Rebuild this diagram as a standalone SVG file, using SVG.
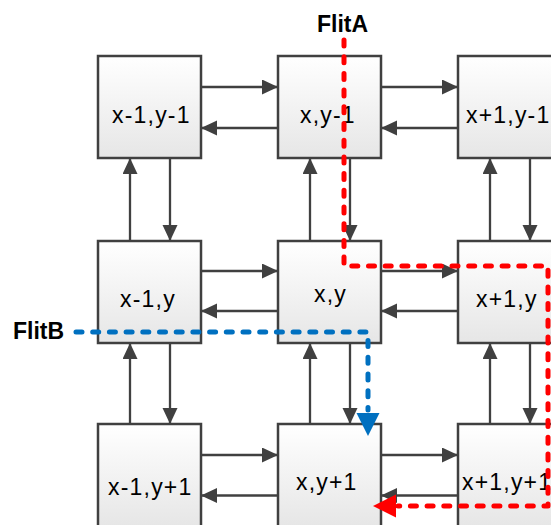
<svg xmlns="http://www.w3.org/2000/svg" width="551" height="525" viewBox="0 0 551 525">
  <style>
    .box { stroke: #404040; stroke-width: 2.5; fill: url(#g); }
    .lbl { font-family: "Liberation Sans", Arial, sans-serif; font-size: 23px; fill: #000; letter-spacing: 1.2px; }
    .flit { font-family: "Liberation Sans", Arial, sans-serif; font-size: 23px; font-weight: bold; fill: #000; }
    .ln { stroke: #404040; stroke-width: 2.3; fill: none; marker-end: url(#ah); }
    .red { stroke: #ff0000; stroke-width: 5; fill: none; stroke-dasharray: 6 10.7; stroke-linecap: round; stroke-linejoin: round; }
    .blue { stroke: #0070c0; stroke-width: 5; fill: none; stroke-dasharray: 6 10.7; stroke-linecap: round; stroke-linejoin: round; }
  </style>
  <defs>
    <linearGradient id="g" x1="0" y1="0" x2="0" y2="1">
      <stop offset="0" stop-color="#ffffff"/>
      <stop offset="1" stop-color="#e6e6e6"/>
    </linearGradient>
    <marker id="ah" markerUnits="userSpaceOnUse" markerWidth="18" markerHeight="16" refX="16" refY="7.5" orient="auto">
      <path d="M0,0 L16,7.5 L0,15 z" fill="#404040"/>
    </marker>
  </defs>

  <g id="n-xm1-ym1"><rect class="box" x="98" y="56" width="103" height="102"/><text class="lbl" x="112" y="123">x-1,y-1</text></g>
  <g id="n-x-ym1"><rect class="box" x="278" y="56" width="103" height="102"/><text class="lbl" x="300" y="123">x,y-1</text></g>
  <g id="n-xp1-ym1"><rect class="box" x="458" y="56" width="103" height="102"/><text class="lbl" x="466" y="123">x+1,y-1</text></g>

  <g id="n-xm1-y"><rect class="box" x="98" y="241" width="103" height="102"/><text class="lbl" x="120" y="307">x-1,y</text></g>
  <g id="n-x-y"><rect class="box" x="278" y="241" width="103" height="102"/><text class="lbl" x="314" y="302">x,y</text></g>
  <g id="n-xp1-y"><rect class="box" x="458" y="241" width="103" height="102"/><text class="lbl" x="476" y="307">x+1,y</text></g>

  <g id="n-xm1-yp1"><rect class="box" x="98" y="424" width="103" height="103"/><text class="lbl" x="108" y="495">x-1,y+1</text></g>
  <g id="n-x-yp1"><rect class="box" x="278" y="424" width="103" height="103"/><text class="lbl" x="296" y="490">x,y+1</text></g>
  <g id="n-xp1-yp1"><rect class="box" x="458" y="424" width="103" height="103"/><text class="lbl" x="462" y="490">x+1,y+1</text></g>

  <g id="connectors">
    <path class="ln" d="M201,87 H278"/>
    <path class="ln" d="M278,128 H201"/>
    <path class="ln" d="M381,87 H458"/>
    <path class="ln" d="M458,128 H381"/>
    <path class="ln" d="M201,271 H278"/>
    <path class="ln" d="M278,311 H201"/>
    <path class="ln" d="M381,271 H458"/>
    <path class="ln" d="M458,311 H381"/>
    <path class="ln" d="M201,455 H278"/>
    <path class="ln" d="M278,495.5 H201"/>
    <path class="ln" d="M381,455 H458"/>
    <path class="ln" d="M458,495.5 H381"/>
    <path class="ln" d="M130,241 V158"/>
    <path class="ln" d="M170,158 V241"/>
    <path class="ln" d="M310,241 V158"/>
    <path class="ln" d="M350,158 V241"/>
    <path class="ln" d="M490,241 V158"/>
    <path class="ln" d="M530,158 V241"/>
    <path class="ln" d="M130,424 V343"/>
    <path class="ln" d="M170,343 V424"/>
    <path class="ln" d="M310,424 V343"/>
    <path class="ln" d="M350,343 V424"/>
    <path class="ln" d="M490,424 V343"/>
    <path class="ln" d="M530,343 V424"/>

    <path class="red" d="M344,40 V266 H548 V506 H398"/>
    <polygon points="396,494.5 396,517.5 373,506" fill="#ff0000"/>
    <path class="blue" d="M76,332 H368 V410"/>
    <polygon points="356.5,413 379.5,413 368,436" fill="#0070c0"/>
  </g>

  <text class="flit" x="317" y="32">FlitA</text>
  <text class="flit" x="13" y="339">FlitB</text>
</svg>
